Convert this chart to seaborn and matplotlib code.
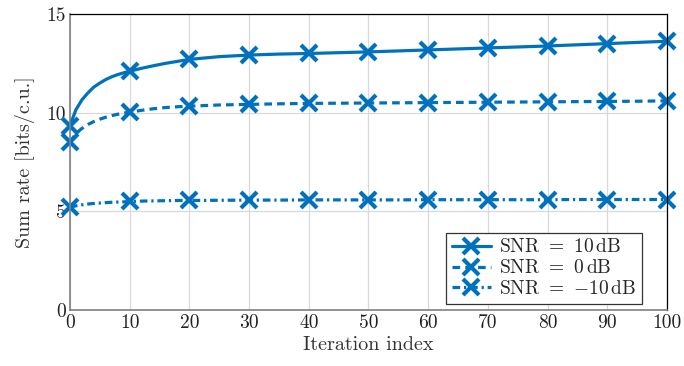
import numpy as np
import pandas as pd
import matplotlib
matplotlib.use('Agg')
import matplotlib.pyplot as plt
from matplotlib.lines import Line2D
import seaborn as sns

iters = [0, 1, 2, 3, 4, 5, 6, 7, 8, 9, 10, 12, 14, 16, 18, 20, 25, 30, 35, 40,
         45, 50, 55, 60, 65, 70, 75, 80, 85, 90, 95, 100]

rate_10db = [9.35, 10.15, 10.65, 11.0, 11.3, 11.5, 11.68, 11.82, 11.93, 12.02, 12.1,
             12.25, 12.38, 12.5, 12.6, 12.7, 12.84, 12.92, 12.97, 13.0,
             13.04, 13.08, 13.13, 13.18, 13.23, 13.28, 13.33, 13.38, 13.44, 13.5, 13.56, 13.62]
rate_0db = [8.5, 8.95, 9.2, 9.4, 9.55, 9.67, 9.77, 9.85, 9.92, 9.98, 10.03,
            10.12, 10.2, 10.26, 10.3, 10.33, 10.39, 10.42, 10.45, 10.47,
            10.48, 10.49, 10.5, 10.51, 10.52, 10.53, 10.54, 10.55, 10.56, 10.57, 10.58, 10.6]
rate_m10db = [5.2, 5.28, 5.33, 5.37, 5.4, 5.42, 5.44, 5.46, 5.47, 5.48, 5.5,
              5.52, 5.53, 5.54, 5.55, 5.55, 5.56, 5.57, 5.57, 5.58,
              5.58, 5.58, 5.58, 5.59, 5.59, 5.59, 5.59, 5.59, 5.6, 5.6, 5.6, 5.6]

labels = [r'SNR $=$ 10$\,$dB', r'SNR $=$ 0$\,$dB', r'SNR $=$ $-10\,$dB']
x_ticks = list(range(0, 101, 10))
y_ticks = [0, 5, 10, 15]

sns.set_style('whitegrid')
plt.rcParams['font.family'] = ['cmr10', 'DejaVu Serif']
plt.rcParams['mathtext.fontset'] = 'cm'
plt.rcParams['axes.unicode_minus'] = False

blue = '#0072BD'
mark_idx = [i for i, v in enumerate(iters) if v % 10 == 0]

fig = plt.figure(figsize=(6.84, 3.66), dpi=100)
ax = fig.add_axes([0.1023, 0.153, 0.8728, 0.8087])

df = pd.DataFrame({'iter': iters * 3,
                   'rate': rate_10db + rate_0db + rate_m10db,
                   'snr': [labels[0]] * len(iters) + [labels[1]] * len(iters) + [labels[2]] * len(iters)})

sns.lineplot(data=df, x='iter', y='rate', hue='snr', hue_order=labels,
             palette=[blue] * 3, ax=ax, legend=False)

# pgfplots-like styling of the three curves
styles = ['-', (0, (2.4, 1.6)), (0, (2.4, 1.2, 0.7, 1.2))]
line_kw = dict(linewidth=2.3, color=blue, marker='x', markersize=11,
               markeredgewidth=3.0, markeredgecolor=blue, markerfacecolor=blue)
for line, ls in zip(ax.lines[:3], styles):
    line.set(linestyle=ls, markevery=mark_idx, clip_on=False, **line_kw)

ax.set_xlim(0, 100)
ax.set_ylim(0, 15)
ax.set_xticks(x_ticks)
ax.set_yticks(y_ticks)
ax.set_xticklabels([str(v) for v in x_ticks])
ax.set_yticklabels([str(v) for v in y_ticks])
ax.tick_params(axis='both', length=0, pad=3, labelsize=14, colors='#222222')
ax.grid(True, color='#d9d9d9', linewidth=0.9)
ax.set_axisbelow(True)

for side in ['top', 'right']:
    ax.spines[side].set_color('black')
    ax.spines[side].set_linewidth(0.9)
for side in ['left', 'bottom']:
    ax.spines[side].set_color('#808080')
    ax.spines[side].set_linewidth(1.2)

ax.set_xlabel('Iteration index', fontsize=14.5, color='#333333', labelpad=3)
ax.set_ylabel('Sum rate [bits/c.u.]', fontsize=14.5, color='#333333', labelpad=8)

handles = [Line2D([], [], linestyle=ls, **line_kw) for ls in styles]
leg = ax.legend(handles, labels, loc='lower right', bbox_to_anchor=(0.958, 0.02),
                fontsize=14, frameon=True, fancybox=False, edgecolor='#333333',
                framealpha=1, borderpad=0.3, handlelength=2.0, labelspacing=0.15,
                handletextpad=0.4, borderaxespad=0, numpoints=1)
leg.get_frame().set_linewidth(0.9)

fig.savefig('out.png', dpi=100)
